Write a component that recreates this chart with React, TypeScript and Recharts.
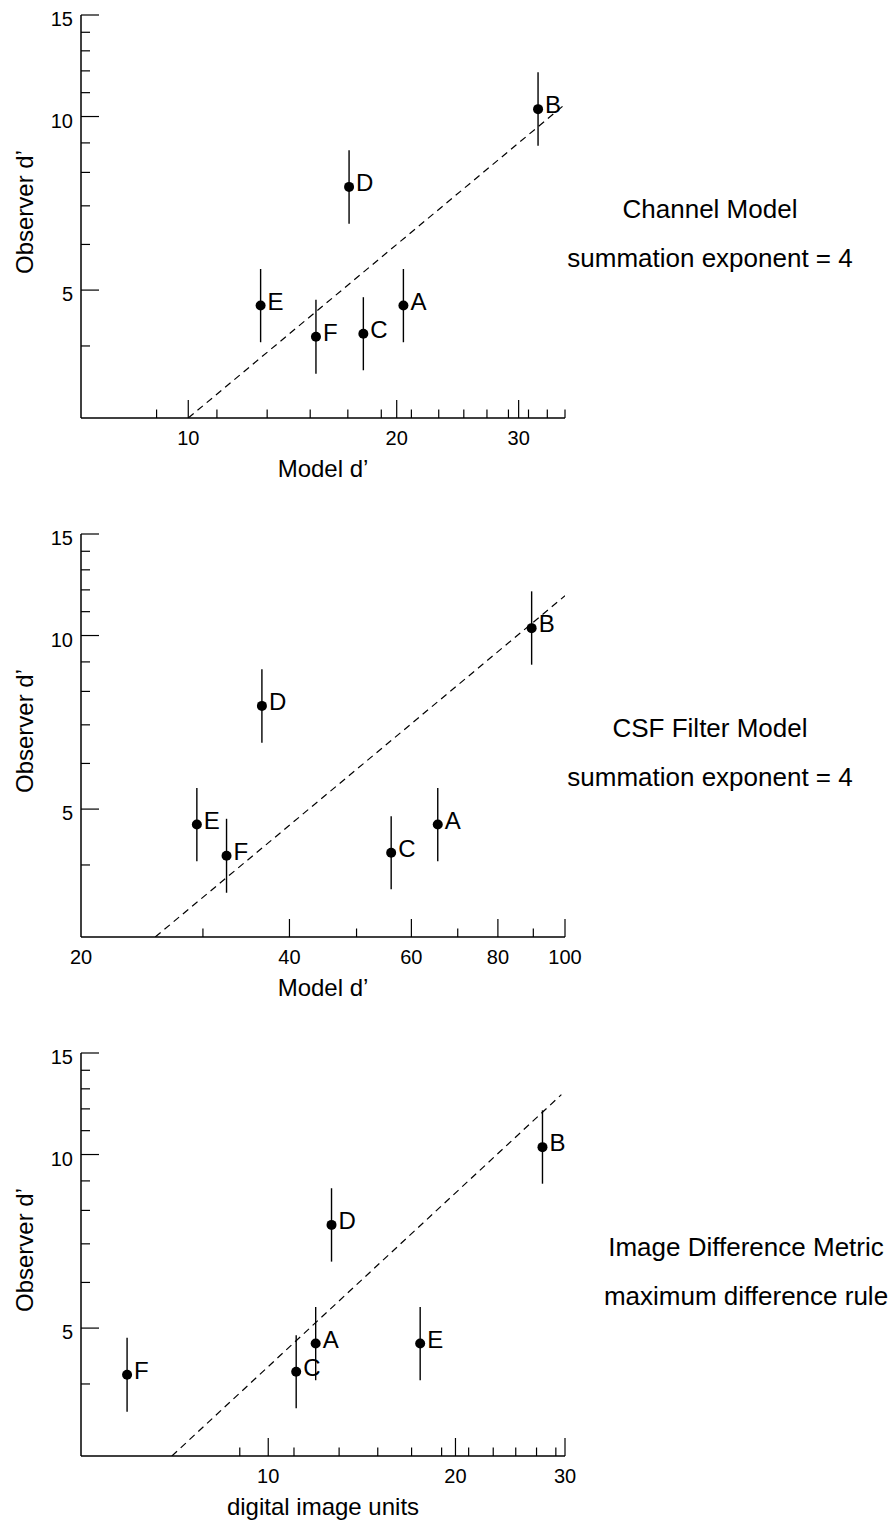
import { ScatterChart, Scatter, XAxis, YAxis, ErrorBar } from 'recharts';

const FONT = '"Liberation Sans", Arial, Helvetica, sans-serif';

// stimuli A-F, same observer d' in every panel
const pointNames = ['A', 'B', 'C', 'D', 'E', 'F'];
const observerD = [4.7, 10.3, 4.2, 7.55, 4.7, 4.15];
const observerLow = [4.06, 8.9, 3.63, 6.52, 4.06, 3.58];
const observerHigh = [5.44, 11.93, 4.86, 8.74, 5.44, 4.81];

// x values per panel
const channelModelD = [20.45, 32.0, 17.9, 17.07, 12.72, 15.29];
const csfModelD = [65.5, 89.5, 56.1, 36.5, 29.4, 32.45];
const imageDiffUnits = [11.92, 27.6, 11.09, 12.64, 17.55, 5.93];

// dashed reference lines
const channelFitX = [10, 35];
const channelFitY = [3, 10.5];
const csfFitX = [25.6, 100];
const csfFitY = [3, 11.72];
const imageFitX = [7, 29.6];
const imageFitY = [3, 12.7];

// axes
const yTicks = [4, 5, 6, 7, 8, 9, 10, 11, 12, 13, 14, 15];
const yMajor = [5, 10, 15];
const channelTicks = [9, 10, 11, 13, 15, 17, 19, 20, 21, 23, 25, 27, 29, 30, 31, 33, 35];
const channelMajor = [10, 20, 30];
const channelLabels = [10, 20, 30];
const csfTicks = [20, 30, 40, 50, 60, 70, 80, 90, 100];
const csfMajor = [40, 60, 80, 100];
const csfLabels = [20, 40, 60, 80, 100];
const imageTicks = [9, 10, 11, 13, 15, 17, 19, 20, 21, 23, 25, 27, 29, 30];
const imageMajor = [10, 20, 30];
const imageLabels = [10, 20, 30];

interface PanelProps {
    top: number;
    xValues: number[];
    xDomain: [number, number];
    xTicks: number[];
    xMajor: number[];
    xLabels: number[];
    fitX: number[];
    fitY: number[];
    xTitle: string;
    title: string;
    subtitle: string;
    textX: number;
}

const PointShape = (props: any) => {
    const { cx, cy, payload } = props;
    return (
        <g>
            <circle cx={cx} cy={cy} r={5} fill="#000" />
            <text x={cx + 7} y={cy + 4} fontSize={24} fontFamily={FONT} fill="#000">
                {payload.name}
            </text>
        </g>
    );
};

const Panel = ({ top, xValues, xDomain, xTicks, xMajor, xLabels, fitX, fitY, xTitle, title, subtitle, textX }: PanelProps) => {
    const data = pointNames.map((name, i) => ({
        name,
        x: xValues[i],
        y: observerD[i],
        err: [observerD[i] - observerLow[i], observerHigh[i] - observerD[i]]
    }));
    const fit = fitX.map((x, i) => ({ x, y: fitY[i] }));

    const renderXTick = (p: any) => {
        const v = p.payload.value;
        const len = xMajor.includes(v) ? 18 : 8.5;
        return (
            <g>
                {v !== xDomain[0] && (
                    <line x1={p.x} x2={p.x} y1={p.y} y2={p.y - len} stroke="#000" strokeWidth={1.2} />
                )}
                {xLabels.includes(v) && (
                    <text x={p.x} y={p.y + 27} textAnchor="middle" fontSize={20} fontFamily={FONT} fill="#000">
                        {v}
                    </text>
                )}
            </g>
        );
    };

    const renderYTick = (p: any) => {
        const v = p.payload.value;
        const major = yMajor.includes(v);
        return (
            <g>
                <line x1={p.x} x2={p.x + (major ? 18 : 9)} y1={p.y} y2={p.y} stroke="#000" strokeWidth={1.2} />
                {major && (
                    <text x={p.x - 8} y={p.y + 11} textAnchor="end" fontSize={20} fontFamily={FONT} fill="#000">
                        {v}
                    </text>
                )}
            </g>
        );
    };

    return (
        <div style={{ position: 'absolute', left: 0, top, width: 894, height: 486 }}>
            <ScatterChart width={894} height={486} margin={{ top: 15, right: 329, bottom: 0, left: 0 }}>
                <XAxis
                    type="number"
                    dataKey="x"
                    scale="log"
                    domain={xDomain}
                    ticks={xTicks}
                    interval={0}
                    allowDataOverflow
                    tickSize={0}
                    tickMargin={0}
                    tick={renderXTick}
                    axisLine={{ stroke: '#000', strokeWidth: 1.5 }}
                    height={68}
                />
                <YAxis
                    type="number"
                    dataKey="y"
                    scale="log"
                    domain={[3, 15]}
                    ticks={yTicks}
                    interval={0}
                    allowDataOverflow
                    tickSize={0}
                    tickMargin={0}
                    tick={renderYTick}
                    axisLine={{ stroke: '#000', strokeWidth: 1.5 }}
                    width={81}
                />
                <Scatter
                    data={fit}
                    line={{ stroke: '#000', strokeWidth: 1.2, strokeDasharray: '7 5' }}
                    shape={() => <g />}
                    isAnimationActive={false}
                />
                <Scatter data={data} shape={PointShape} isAnimationActive={false}>
                    <ErrorBar dataKey="err" direction="y" width={0} stroke="#000" strokeWidth={1.4} />
                </Scatter>
            </ScatterChart>
            <svg
                width={894}
                height={486}
                style={{ position: 'absolute', left: 0, top: 0, pointerEvents: 'none' }}
                fontFamily={FONT}
                fill="#000"
            >
                <text x={33} y={212} fontSize={24} textAnchor="middle" transform="rotate(-90 33 212)">
                    Observer d’
                </text>
                <text x={323} y={477} fontSize={24} textAnchor="middle">{xTitle}</text>
                <text x={textX} y={218} fontSize={26} textAnchor="middle">{title}</text>
                <text x={textX} y={267} fontSize={26} textAnchor="middle">{subtitle}</text>
            </svg>
        </div>
    );
};

const App = () => {
    return (
        <div style={{ position: 'absolute', left: 0, top: 0, width: 894, height: 1524, background: '#fff' }}>
            <Panel
                top={0}
                xValues={channelModelD}
                xDomain={[7, 35]}
                xTicks={channelTicks}
                xMajor={channelMajor}
                xLabels={channelLabels}
                fitX={channelFitX}
                fitY={channelFitY}
                xTitle="Model d’"
                title="Channel Model"
                subtitle="summation exponent = 4"
                textX={710}
            />
            <Panel
                top={519}
                xValues={csfModelD}
                xDomain={[20, 100]}
                xTicks={csfTicks}
                xMajor={csfMajor}
                xLabels={csfLabels}
                fitX={csfFitX}
                fitY={csfFitY}
                xTitle="Model d’"
                title="CSF Filter Model"
                subtitle="summation exponent = 4"
                textX={710}
            />
            <Panel
                top={1038}
                xValues={imageDiffUnits}
                xDomain={[5, 30]}
                xTicks={imageTicks}
                xMajor={imageMajor}
                xLabels={imageLabels}
                fitX={imageFitX}
                fitY={imageFitY}
                xTitle="digital image units"
                title="Image Difference Metric"
                subtitle="maximum difference rule"
                textX={746}
            />
        </div>
    );
};

export default App;
